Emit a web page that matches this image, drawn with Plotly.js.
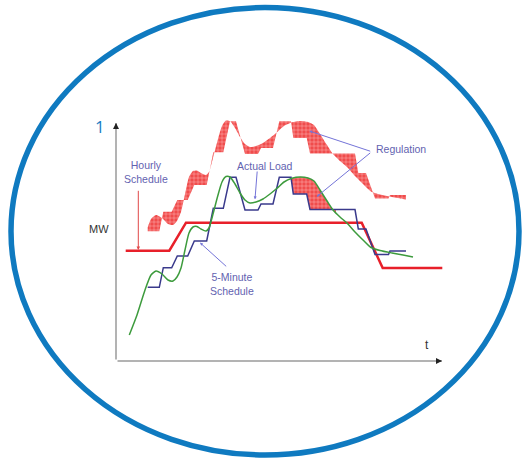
<!DOCTYPE html>
<html><head><meta charset="utf-8">
<script src="https://cdn.plot.ly/plotly-3.0.1.min.js"></script>
<style>html,body{margin:0;padding:0;background:#fff;}#chart{width:524px;height:459px;}</style>
</head><body><div id="chart"></div>
<script>
// ---- data (t = time units, MW = load units) ----
const hourlyT  = [9.7, 53.3, 70, 245.7, 266.7, 326.3];
const hourlyMW = [110.3, 110.3, 138.3, 138.3, 93, 93];

const fiveMinT  = [31.7,43.3,47.3,55.7,61.3,71.7,78.3,90.7,97.3,107.3,114,120,129,142,145,157,163.3,175,177.3,190.7,194,239,242.3,250,259,272.5,274,290];
const fiveMinMW = [73.7,73.7,93.3,93.3,105,105,120,120,152.7,152.7,183.7,183.7,151,151,157,157,183.7,183.7,167,167,151.5,151.5,132,132,106.5,106.5,110,110];

const actualT  = [13.3,21,29,35,40,46,52,57,61,65,69,73,77,81,85,90,93,97,102,106,110,114,119,124,129,134,140,147,154,161,168,176,184,192,198,204,211,217,224,231,239,247,255,264,276,287,297];
const actualMW = [26,46,71,86,90,87,81,80,84,93,111,128,134,134.5,132,130,133,147,166,179,184.5,184,177,168,161,158,159,162,167,172.7,179,182.7,184,183,180,171,160,151,144,138,129,121,113.5,110.5,108,106,104];

const labels = {hourly:'Hourly<br>Schedule', actual:'Actual Load', reg:'Regulation', five:'5-Minute<br>Schedule'};

// ---- display settings ----
const REG_OFFSET = 56;          // regulation band drawn this far above the load curves
const REG_WIN = [174, 220];     // window where lower regulation area is shaded
const lblFont = {family:'Liberation Sans, Arial, sans-serif', size:10.5, color:'#6262b0'};
const pat = {shape:'+', bgcolor:'#f04c4c', fgcolor:'#ffc4c4', size:4, solidity:0.2};

function interp(xs, ys, t){
  for(let i=0;i<xs.length-1;i++){
    if(t>=xs[i] && t<=xs[i+1]){
      const f=(t-xs[i])/(xs[i+1]-xs[i]); return ys[i]+f*(ys[i+1]-ys[i]);
    }
  }
  return t<xs[0]?ys[0]:ys[ys.length-1];
}
function clip(xs, ys, t0, t1, off){
  const X=[t0], Y=[interp(xs,ys,t0)+off];
  xs.forEach((x,i)=>{ if(x>t0 && x<t1){X.push(x); Y.push(ys[i]+off);} });
  X.push(t1); Y.push(interp(xs,ys,t1)+off);
  return [X,Y];
}

const t0 = fiveMinT[0], t1 = fiveMinT[fiveMinT.length-1];
const [bandBx, bandBy] = clip(fiveMinT, fiveMinMW, t0, t1, REG_OFFSET);
const [bandGx, bandGy] = clip(actualT, actualMW, t0, t1, REG_OFFSET);
const [lowBx, lowBy] = clip(fiveMinT, fiveMinMW, REG_WIN[0], REG_WIN[1], 0);
const [lowGx, lowGy] = clip(actualT, actualMW, REG_WIN[0], REG_WIN[1], 0);

const noLine = {width:0};
const traces = [
  {x:bandBx, y:bandBy, mode:'lines', line:noLine, hoverinfo:'skip', showlegend:false},
  {x:bandGx, y:bandGy, mode:'lines', line:{width:0, shape:'spline', smoothing:0.6}, fill:'tonexty', fillcolor:'#f04c4c', fillpattern:pat, hoverinfo:'skip', showlegend:false, name:'Regulation'},
  {x:lowBx, y:lowBy, mode:'lines', line:noLine, hoverinfo:'skip', showlegend:false},
  {x:lowGx, y:lowGy, mode:'lines', line:{width:0, shape:'spline', smoothing:0.6}, fill:'tonexty', fillcolor:'#f04c4c', fillpattern:pat, hoverinfo:'skip', showlegend:false},
  {x:hourlyT, y:hourlyMW, mode:'lines', name:'Hourly Schedule', line:{color:'#e8202a', width:2.5}},
  {x:fiveMinT, y:fiveMinMW, mode:'lines', name:'5-Minute Schedule', line:{color:'#3a3a8c', width:1.5}},
  {x:actualT, y:actualMW, mode:'lines', name:'Actual Load', line:{color:'#3d9b3d', width:1.5, shape:'spline', smoothing:0.6}}
];

function arrow(x, y, ax, ay, color, head, size, width){
  return {x:x, y:y, ax:ax, ay:ay, xref:'x', yref:'y', axref:'x', ayref:'y', text:'', showarrow:true,
          arrowhead:head, arrowsize:size, arrowwidth:width, arrowcolor:color, standoff:0, startstandoff:0};
}
function label(x, y, text, font){
  return {x:x, y:y, xref:'x', yref:'y', text:text, showarrow:false, font:font, align:'center'};
}

const annotations = [
  // axes
  arrow(0, 238, 0, 0, '#9a9a9a', 0, 1, 1.5),
  arrow(326, 0, 0, 0, '#9a9a9a', 0, 1, 1.5),
  arrow(0, 238, 0, 231, '#222', 2, 0.8, 1.5),
  arrow(326, 0, 319, 0, '#222', 2, 0.8, 1.5),
  label(-16, 235, '1', {family:'Open Sans, sans-serif', size:17, color:'#1a7cc4'}),
  label(-17, 132.3, 'MW', {family:'Liberation Sans, Arial, sans-serif', size:11, color:'#333'}),
  label(310.7, 16, 't', {family:'Liberation Sans, Arial, sans-serif', size:12, color:'#333'}),
  // callouts
  label(30, 189, labels.hourly, lblFont),
  label(149.3, 195.3, labels.actual, lblFont),
  label(285, 211.7, labels.reg, lblFont),
  label(116.3, 76.8, labels.five, lblFont),
  arrow(22.3, 111, 22.3, 171.7, '#e04848', 2, 0.7, 1),
  arrow(139, 161.7, 141.3, 191, '#7474d8', 2, 0.6, 1),
  arrow(84, 118.3, 111.7, 93.3, '#7474d8', 2, 0.6, 1),
  arrow(193.3, 230, 255.7, 209.3, '#7474d8', 2, 0.6, 1),
  arrow(200.7, 164.3, 255.7, 209.3, '#7474d8', 2, 0.6, 1)
];

const layout = {
  width:524, height:459,
  margin:{l:0, r:0, t:0, b:0},
  paper_bgcolor:'#fff', plot_bgcolor:'#fff',
  showlegend:false,
  xaxis:{range:[-116, 408], visible:false, fixedrange:true},
  yaxis:{range:[-98, 361], visible:false, fixedrange:true},
  shapes:[{type:'circle', xref:'x', yref:'y', x0:-105, x1:403, y0:-94, y1:353.5,
           line:{color:'#0f7ac0', width:5.5}, layer:'above'}],
  annotations:annotations
};

Plotly.newPlot('chart', traces, layout, {staticPlot:true, displayModeBar:false});
</script>
</body></html>
